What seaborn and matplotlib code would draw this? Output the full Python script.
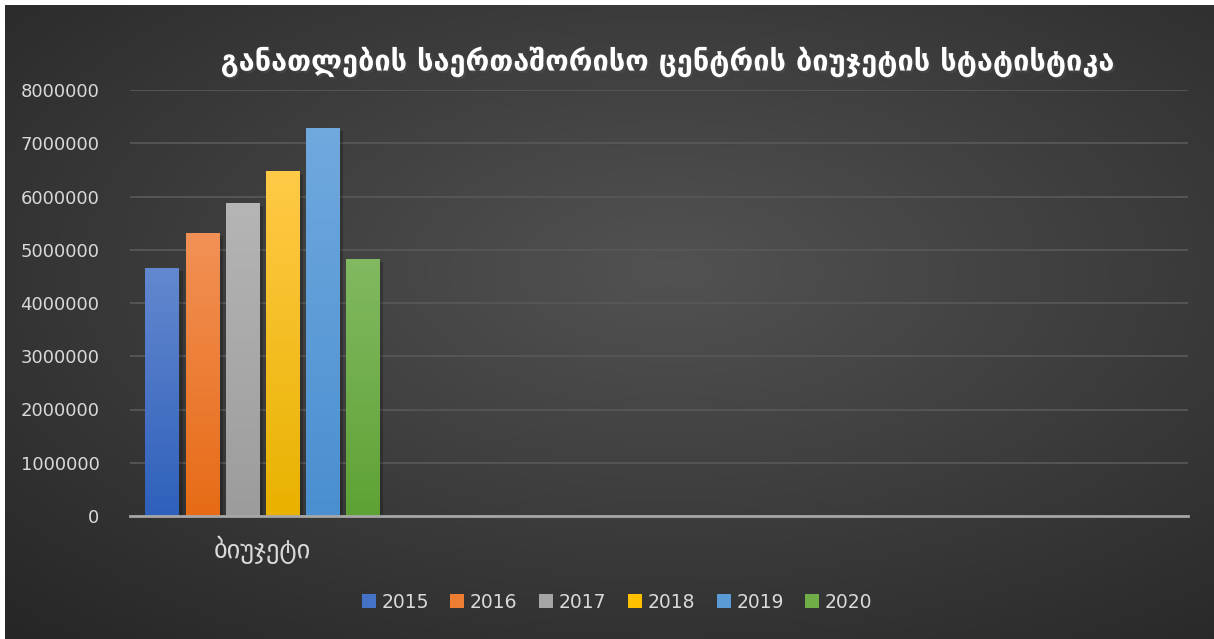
import numpy as np
import pandas as pd
import matplotlib
matplotlib.use("Agg")
import matplotlib.pyplot as plt
import matplotlib.patheffects as pe
from matplotlib.colors import LinearSegmentedColormap
import seaborn as sns

# ---- data ----
categories = ["ბიუჯეტი", " ", "  ", "   "]
years = ["2015", "2016", "2017", "2018", "2019", "2020"]
budget = [4660000, 5315000, 5880000, 6480000, 7290000, 4830000]
colors_mid = ["#4472C4", "#ED7D31", "#A5A5A5", "#FFC000", "#5B9BD5", "#70AD47"]
colors_top = ["#6388cf", "#f29156", "#b5b5b5", "#ffca47", "#70a9de", "#82b961"]
colors_bot = ["#2f60bb", "#e76b16", "#9c9c9c", "#e9b200", "#4a8fd0", "#5ea235"]
title = "განათლების საერთაშორისო ცენტრის ბიუჯეტის სტატისტიკა"
yticks = [0, 1000000, 2000000, 3000000, 4000000, 5000000, 6000000, 7000000, 8000000]

df = pd.DataFrame({"cat": [categories[0]] * len(years), "year": years, "value": budget})

sns.set_theme(style="dark")
plt.rcParams["font.family"] = ["DejaVu Sans"]

W, H = 1214, 639
fig = plt.figure(figsize=(W / 100, H / 100), dpi=100)
fig.patch.set_facecolor("white")

# background radial gradient
bg = fig.add_axes([5 / W, 0, 1 - 5 / W, 1 - 5 / H])
yy, xx = np.mgrid[0:1:300j, 0:1:600j]
r = np.sqrt(((xx - 0.55) / 0.75) ** 2 + ((yy - 0.42) / 0.75) ** 2)
r = np.clip(r / r.max(), 0, 1)
cmap_bg = LinearSegmentedColormap.from_list("bg", ["#525252", "#3c3c3c", "#262626"])
bg.imshow(r, cmap=cmap_bg, aspect="auto", extent=[0, 1, 0, 1], vmin=0, vmax=1)
bg.set_axis_off()

ax = fig.add_axes([130 / W, 1 - 516 / H, 1058 / W, 426 / H])
ax.set_facecolor("none")

sns.barplot(data=df, x="cat", y="value", hue="year", order=categories,
            hue_order=years, palette=colors_mid, width=0.91, gap=0.175,
            saturation=1, ax=ax, legend=True, linewidth=0, edgecolor="none")

ax.set_ylim(0, 8000000)
ax.set_xlim(-0.5, 3.5)
ax.set_yticks(yticks)
ax.set_yticklabels([str(v) for v in yticks])
ax.set_xlabel("")
ax.set_ylabel("")
ax.grid(axis="y", color="#575757", linewidth=1.3)
ax.grid(axis="x", visible=False)
for s in ["top", "right", "left"]:
    ax.spines[s].set_visible(False)
ax.spines["bottom"].set_color("#a6a6a6")
ax.spines["bottom"].set_linewidth(2)
ax.spines["bottom"].set_zorder(5)
ax.tick_params(axis="y", colors="#d9d9d9", labelsize=13, length=0, pad=22)
ax.tick_params(axis="x", colors="#d9d9d9", labelsize=19, length=0, pad=14)
ax.set_axisbelow(True)

# gradient fill + soft shadow on bars
bars = [p for p in ax.patches if p.get_height() > 0]
bars_sorted = sorted(bars, key=lambda p: p.get_x())
for i, p in enumerate(bars_sorted):
    p.set_linewidth(0)
    p.set_path_effects([pe.SimplePatchShadow(offset=(3, -2), shadow_rgbFace="black", alpha=0.22), pe.Normal()])
    x0, w, h = p.get_x(), p.get_width(), p.get_height()
    cm = LinearSegmentedColormap.from_list("g%d" % i, [colors_bot[i], colors_top[i]])
    grad = np.linspace(0, 1, 100).reshape(-1, 1)
    im = ax.imshow(grad, cmap=cm, aspect="auto", extent=[x0, x0 + w, 0, h],
                   origin="lower", zorder=p.get_zorder() + 0.1)
    im.set_clip_path(p)
ax.set_xlim(-0.5, 3.5)
ax.set_ylim(0, 8000000)

# legend
handles, labels = ax.get_legend_handles_labels()
if ax.get_legend() is not None:
    ax.get_legend().remove()
leg = fig.legend(handles, labels, loc="center", bbox_to_anchor=(617 / W, 1 - 602 / H),
                 ncol=6, frameon=False, fontsize=13.5, handlelength=0.75, handleheight=0.75,
                 handletextpad=0.3, columnspacing=1.15, labelcolor="#d9d9d9")
for hnd in leg.legend_handles:
    hnd.set_linewidth(0)

# title
fig.text(667 / W, 1 - 62 / H, title, ha="center", va="center", fontsize=20.8,
         fontweight="bold", color="white",
         path_effects=[pe.withSimplePatchShadow(offset=(1.5, -1.5), alpha=0.6)])

fig.savefig("out.png", dpi=100, facecolor=fig.get_facecolor())
